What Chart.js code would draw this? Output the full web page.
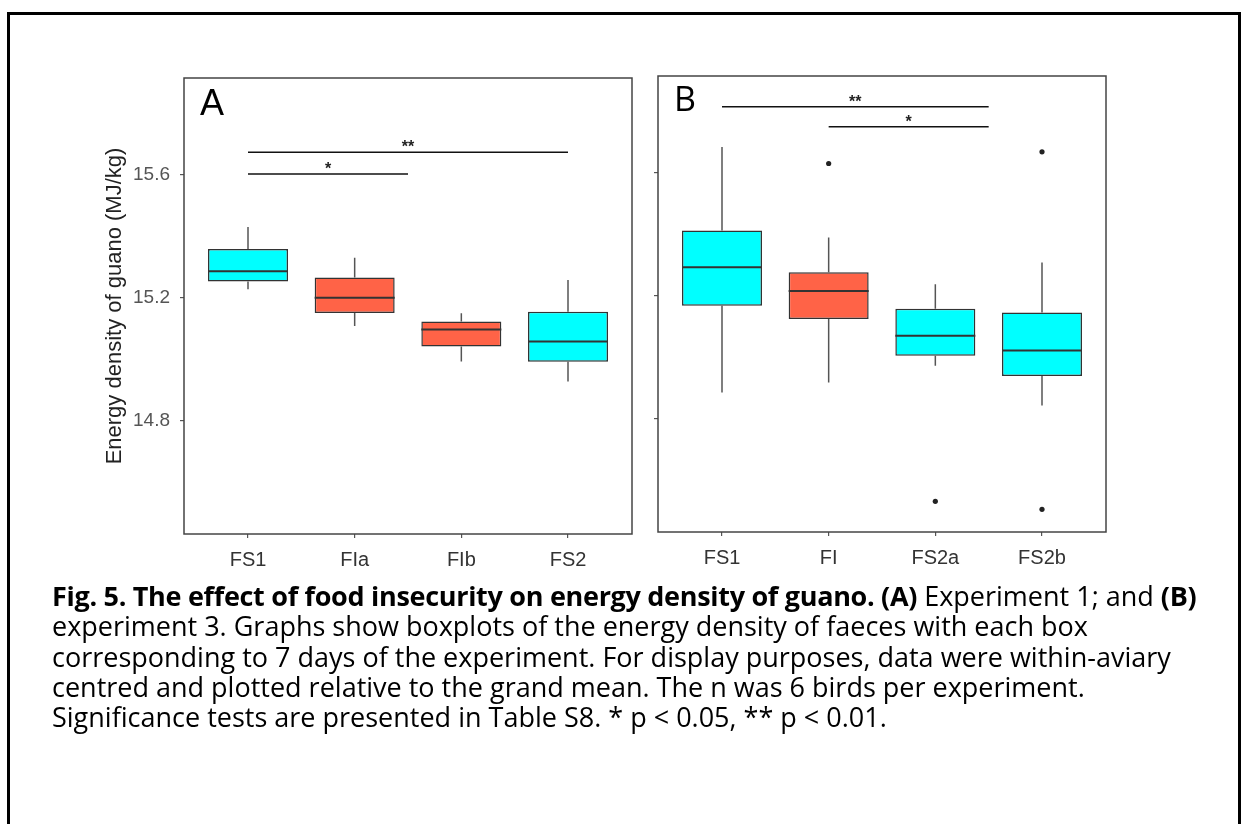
<!DOCTYPE html>
<html>
<head>
<meta charset="utf-8">
<title>Energy density of guano</title>
<script src="https://cdn.jsdelivr.net/npm/chart.js@4.4.0/dist/chart.umd.min.js"></script>
<style>
  body { margin: 0; background: #fff; width: 1241px; height: 824px; overflow: hidden; position: relative; }
  #frame { position: absolute; left: 7px; top: 12px; width: 1234px; height: 900px; border: 3px solid #000; box-sizing: border-box; }
  canvas { position: absolute; }
  #caption { position: absolute; left: 52px; top: 581px; font-family: 'Open Sans', sans-serif; font-size: 27px; line-height: 30.3px; color: #000; white-space: nowrap; }
  #caption b { letter-spacing: -0.3px; }
</style>
</head>
<body>
<div id="frame"></div>
<canvas id="chartA" width="552" height="520" style="left:90px;top:60px"></canvas>
<canvas id="chartB" width="480" height="520" style="left:640px;top:58px"></canvas>
<div id="caption">
<b>Fig. 5. The effect of food insecurity on energy density of guano. (A)</b> Experiment 1; and <b>(B)</b><br>
experiment 3. Graphs show boxplots of the energy density of faeces with each box<br>
corresponding to 7 days of the experiment. For display purposes, data were within-aviary<br>
centred and plotted relative to the grand mean. The n was 6 birds per experiment.<br>
Significance tests are presented in Table S8. * p &lt; 0.05, ** p &lt; 0.01.
</div>
<script>
// Experiment 1
const aLabels = ['FS1', 'FIa', 'FIb', 'FS2'];
const aLow    = [15.227, 15.107, 14.992, 14.927];
const aQ1     = [15.252, 15.150, 15.041, 14.991];
const aMedian = [15.286, 15.199, 15.096, 15.057];
const aQ3     = [15.358, 15.265, 15.122, 15.154];
const aHigh   = [15.430, 15.330, 15.149, 15.257];
const aOutX = [];
const aOutY = [];
const aSigFrom  = [1, 1];
const aSigTo    = [2.5, 4];
const aSigLevel = [15.602, 15.673];
const aSigText  = ['*', '**'];

// Experiment 3
const bLabels = ['FS1', 'FI', 'FS2a', 'FS2b'];
const bLow    = [14.884, 14.917, 14.971, 14.842];
const bQ1     = [15.167, 15.124, 15.004, 14.938];
const bMedian = [15.292, 15.215, 15.069, 15.021];
const bQ3     = [15.412, 15.276, 15.157, 15.145];
const bHigh   = [15.684, 15.389, 15.237, 15.308];
const bOutX = [2, 3, 4, 4];
const bOutY = [15.630, 14.530, 15.668, 14.504];
const bSigFrom  = [1, 2];
const bSigTo    = [3.5, 3.5];
const bSigLevel = [15.815, 15.750];
const bSigText  = ['**', '*'];

const yTicks = [14.8, 15.2, 15.6];
const yMin = 14.43, yMax = 15.915;

const CYAN = '#00ffff', TOMATO = '#ff6347';
const aFill = [CYAN, TOMATO, TOMATO, CYAN];
const bFill = [CYAN, TOMATO, CYAN, CYAN];
const SANS = "'Liberation Sans', Arial, sans-serif";

// whiskers under the boxes, medians / stars / frame / letter on top
function boxExtras(cfg) {
  return {
    id: 'boxExtras',
    beforeDatasetsDraw(chart) {
      const { ctx, scales: { y } } = chart;
      const bars = chart.getDatasetMeta(0).data;
      ctx.save();
      ctx.strokeStyle = '#555';
      ctx.lineWidth = 1.5;
      bars.forEach((bar, i) => {
        ctx.beginPath();
        ctx.moveTo(bar.x, y.getPixelForValue(cfg.low[i]));
        ctx.lineTo(bar.x, y.getPixelForValue(cfg.q1[i]));
        ctx.moveTo(bar.x, y.getPixelForValue(cfg.q3[i]));
        ctx.lineTo(bar.x, y.getPixelForValue(cfg.high[i]));
        ctx.stroke();
      });
      ctx.restore();
    },
    afterDatasetsDraw(chart) {
      const { ctx, scales: { x, y } } = chart;
      const bars = chart.getDatasetMeta(0).data;
      ctx.save();
      ctx.strokeStyle = '#333';
      ctx.lineWidth = 2;
      bars.forEach((bar, i) => {
        const my = y.getPixelForValue(cfg.median[i]);
        ctx.beginPath();
        ctx.moveTo(bar.x - bar.width / 2, my);
        ctx.lineTo(bar.x + bar.width / 2, my);
        ctx.stroke();
      });
      ctx.fillStyle = '#222';
      ctx.font = 'bold 16px ' + SANS;
      ctx.textAlign = 'center';
      ctx.textBaseline = 'alphabetic';
      cfg.sigText.forEach((t, i) => {
        const mx = x.getPixelForValue((cfg.sigFrom[i] + cfg.sigTo[i]) / 2);
        ctx.fillText(t, mx, y.getPixelForValue(cfg.sigLevel[i]));
      });
      ctx.restore();
    },
    afterDraw(chart) {
      const { ctx, chartArea: a } = chart;
      ctx.save();
      ctx.strokeStyle = '#444';
      ctx.lineWidth = 1.5;
      ctx.strokeRect(a.left, a.top, a.right - a.left, a.bottom - a.top);
      ctx.fillStyle = '#000';
      ctx.font = cfg.letterFont;
      ctx.textAlign = 'left';
      ctx.textBaseline = 'alphabetic';
      ctx.fillText(cfg.letter, a.left + 16, a.top + cfg.letterDrop);
      ctx.restore();
    }
  };
}

function makeChart(id, o) {
  const boxes = o.labels.map((_, i) => ({ x: i + 1, y: [o.q1[i], o.q3[i]] }));
  const sigSets = o.sigFrom.map((f, i) => ({
    type: 'line',
    data: [{ x: f, y: o.sigLevel[i] }, { x: o.sigTo[i], y: o.sigLevel[i] }],
    borderColor: '#111',
    borderWidth: 1.5,
    pointRadius: 0,
    fill: false
  }));
  return new Chart(document.getElementById(id), {
    type: 'bar',
    data: {
      datasets: [
        {
          data: boxes,
          backgroundColor: o.fill,
          borderColor: '#333',
          borderWidth: 1.5,
          borderSkipped: false,
          categoryPercentage: 0.75,
          barPercentage: 1
        },
        {
          type: 'scatter',
          data: o.outX.map((v, i) => ({ x: v, y: o.outY[i] })),
          backgroundColor: '#222',
          borderWidth: 0,
          pointRadius: 2.6
        },
        ...sigSets
      ]
    },
    options: {
      responsive: false,
      animation: false,
      layout: { padding: o.padding },
      plugins: { legend: { display: false }, tooltip: { enabled: false } },
      scales: {
        x: {
          type: 'linear',
          min: 0.4,
          max: 4.6,
          offset: false,
          afterBuildTicks: s => { s.ticks = o.labels.map((_, i) => ({ value: i + 1 })); },
          afterFit: s => { s.height = 40; s.paddingLeft = 0; s.paddingRight = 0; },
          ticks: {
            callback: v => o.labels[v - 1],
            font: { family: SANS, size: 20 },
            color: '#333',
            padding: 10,
            maxRotation: 0,
            autoSkip: false
          },
          grid: { drawOnChartArea: false, drawTicks: true, tickLength: 4, color: '#555', lineWidth: 1.2, offset: false },
          border: { display: false }
        },
        y: {
          min: yMin,
          max: yMax,
          beginAtZero: false,
          afterBuildTicks: s => { s.ticks = yTicks.map(v => ({ value: v })); },
          afterFit: s => { s.width = o.yWidth; s.paddingTop = 0; s.paddingBottom = 0; },
          ticks: {
            callback: v => (o.showY ? v.toFixed(1) : ''),
            font: { family: SANS, size: 19 },
            color: '#555',
            padding: 10
          },
          grid: { drawOnChartArea: false, drawTicks: true, tickLength: 4, color: '#555', lineWidth: 1.2 },
          border: { display: false },
          title: {
            display: o.showY,
            text: 'Energy density of guano (MJ/kg)',
            font: { family: SANS, size: 22 },
            color: '#222',
            padding: { top: 12, bottom: 0 }
          }
        }
      }
    },
    plugins: [boxExtras(o)]
  });
}

makeChart('chartA', {
  labels: aLabels, low: aLow, q1: aQ1, median: aMedian, q3: aQ3, high: aHigh,
  outX: aOutX, outY: aOutY,
  sigFrom: aSigFrom, sigTo: aSigTo, sigLevel: aSigLevel, sigText: aSigText,
  fill: aFill, showY: true, yWidth: 94,
  padding: { left: 0, top: 18, right: 10, bottom: 6 },
  letter: 'A', letterFont: '36px ' + SANS, letterDrop: 37
});

makeChart('chartB', {
  labels: bLabels, low: bLow, q1: bQ1, median: bMedian, q3: bQ3, high: bHigh,
  outX: bOutX, outY: bOutY,
  sigFrom: bSigFrom, sigTo: bSigTo, sigLevel: bSigLevel, sigText: bSigText,
  fill: bFill, showY: false, yWidth: 18,
  padding: { left: 0, top: 18, right: 14, bottom: 6 },
  letter: 'B', letterFont: "34px 'Open Sans', sans-serif", letterDrop: 35
});
</script>
</body>
</html>
